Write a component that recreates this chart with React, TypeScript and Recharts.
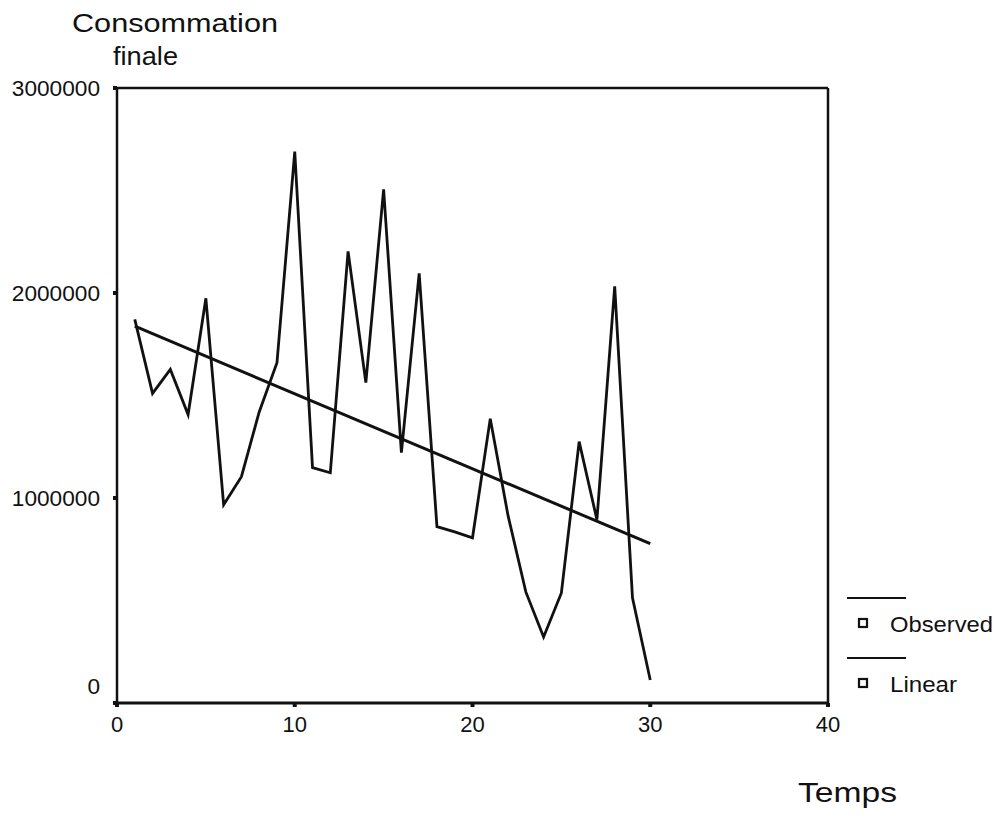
import React from 'react';
import { LineChart, Line, XAxis, YAxis, ReferenceLine, Legend } from 'recharts';

const times = [1, 2, 3, 4, 5, 6, 7, 8, 9, 10, 11, 12, 13, 14, 15, 16, 17, 18, 19, 20, 21, 22, 23, 24, 25, 26, 27, 28, 29, 30];
const observed = [
  1871000, 1510000, 1627000, 1407000, 1974000, 967000, 1104000, 1420000, 1660000, 2690000,
  1148000, 1123000, 2203000, 1563000, 2506000, 1221000, 2096000, 860000, 835000, 806000,
  1387000, 914000, 542000, 322000, 537000, 1275000, 894000, 2032000, 513000, 112000,
];
const linearTimes = [1, 30];
const linearValues = [1838000, 777000];
const xTicks = [0, 10, 20, 30, 40];
const yTicks = [0, 1000000, 2000000, 3000000];
const seriesNames = ['Observed', 'Linear'];

const data = times.map((t, i) => {
  const li = linearTimes.indexOf(t);
  return { t, observed: observed[i], linear: li >= 0 ? linearValues[li] : null };
});

const FONT = '"Liberation Sans", Arial, sans-serif';

const YTick = (props: any) => {
  const { x, y, payload } = props;
  const shift = payload.value === 0 ? -17 : 0;
  return (
    <text x={x - 11} y={y + 8 + shift} textAnchor="end" fontFamily={FONT} fontSize={22} fill="#111"
      textLength={String(payload.value).length * 12.6} lengthAdjust="spacingAndGlyphs">
      {payload.value}
    </text>
  );
};

const XTick = (props: any) => {
  const { x, payload } = props;
  return (
    <text x={x} y={732} textAnchor="middle" fontFamily={FONT} fontSize={22} fill="#111">
      {payload.value}
    </text>
  );
};

const YTitle = () => (
  <g>
    <text x={72} y={32} fontFamily={FONT} fontSize={25} fill="#111" textLength={206} lengthAdjust="spacingAndGlyphs">
      Consommation
    </text>
    <text x={113} y={65} fontFamily={FONT} fontSize={25} fill="#111" textLength={65} lengthAdjust="spacingAndGlyphs">
      finale
    </text>
  </g>
);

const XTitle = () => (
  <text x={798} y={802} fontFamily={FONT} fontSize={28} fill="#111" textLength={99} lengthAdjust="spacingAndGlyphs">
    Temps
  </text>
);

const LegendContent = () => (
  <svg width={176} height={120} style={{ display: 'block', overflow: 'visible' }}>
    {seriesNames.map((name, i) => {
      const oy = i * 60;
      return (
        <g key={name}>
          <line x1={17} x2={76} y1={18 + oy} y2={18 + oy} stroke="#111" strokeWidth={2} />
          <rect x={29} y={39 + oy} width={8} height={8} fill="#fff" stroke="#111" strokeWidth={2.2} />
          <text x={60} y={52 + oy} fontFamily={FONT} fontSize={22} fill="#111"
            textLength={i === 0 ? 103 : 67} lengthAdjust="spacingAndGlyphs">
            {name}
          </text>
        </g>
      );
    })}
  </svg>
);

export default function App() {
  return (
    <div style={{ position: 'absolute', left: 0, top: 0, width: 1006, height: 815, background: '#fff' }}>
      <LineChart width={1006} height={815} data={data} margin={{ top: 88, right: 178, bottom: 0, left: 0 }}>
        <XAxis
          dataKey="t"
          type="number"
          domain={[0, 40]}
          ticks={xTicks}
          height={112}
          axisLine={{ stroke: '#111', strokeWidth: 3 }}
          tickLine={{ stroke: '#111', strokeWidth: 4 }}
          tickSize={4}
          tick={<XTick />}
          label={{ content: () => <XTitle /> }}
        />
        <YAxis
          type="number"
          domain={[0, 3000000]}
          ticks={yTicks}
          width={117}
          axisLine={{ stroke: '#111', strokeWidth: 2.5 }}
          tickLine={{ stroke: '#111', strokeWidth: 4 }}
          tickSize={4}
          tick={<YTick />}
          label={{ content: () => <YTitle /> }}
        />
        <ReferenceLine y={3000000} stroke="#111" strokeWidth={2.5} />
        <ReferenceLine x={40} stroke="#111" strokeWidth={2.5} />
        <Line
          dataKey="observed"
          name="Observed"
          stroke="#111"
          strokeWidth={2.8}
          dot={false}
          isAnimationActive={false}
          strokeLinejoin="miter"
        />
        <Line
          dataKey="linear"
          name="Linear"
          stroke="#111"
          strokeWidth={3}
          dot={false}
          connectNulls
          isAnimationActive={false}
        />
        <Legend
          layout="vertical"
          align="center"
          verticalAlign="middle"
          content={() => <LegendContent />}
          wrapperStyle={{ position: 'absolute', left: 830, top: 580, width: 176, height: 120 }}
        />
      </LineChart>
    </div>
  );
}
